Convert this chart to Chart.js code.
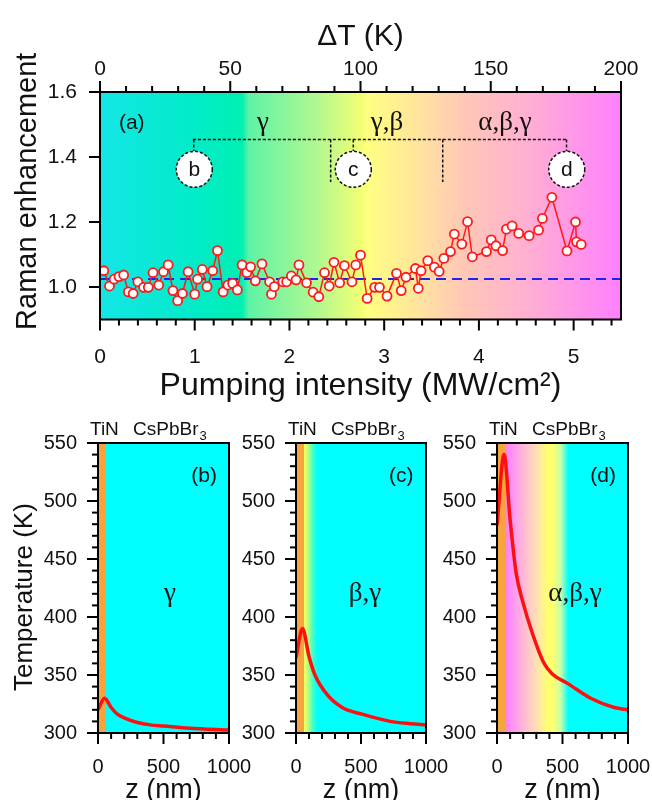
<!DOCTYPE html>
<html>
<head>
<meta charset="utf-8">
<script src="https://cdn.jsdelivr.net/npm/chart.js@4.4.0/dist/chart.umd.min.js"></script>
<style>
html,body{margin:0;padding:0;background:#fff;width:652px;height:800px;overflow:hidden;}
canvas{position:absolute;}
</style>
</head>
<body>
<canvas id="chartA" width="652" height="420" style="left:0;top:0"></canvas>
<canvas id="chartB" width="276" height="420" style="left:0;top:400px"></canvas>
<canvas id="chartC" width="241" height="420" style="left:232px;top:400px"></canvas>
<canvas id="chartD" width="243" height="420" style="left:432px;top:400px"></canvas>
<script>
// =====================================
// DATA
// =====================================

// panel (a): Raman enhancement vs pumping intensity
const pumpIntensity = [
  0.04,0.10,0.15,0.20,0.25,0.30,0.35,0.40,0.46,0.51,
  0.56,0.62,0.67,0.72,0.77,0.82,0.87,0.93,1.00,1.03,
  1.08,1.13,1.19,1.24,1.30,1.35,1.40,1.45,1.50,1.55,
  1.59,1.64,1.71,1.79,1.81,1.84,1.93,1.97,2.02,2.07,
  2.10,2.18,2.25,2.31,2.37,2.42,2.47,2.53,2.58,2.66,
  2.70,2.75,2.82,2.90,2.95,3.03,3.13,3.18,3.23,3.33,
  3.36,3.39,3.46,3.53,3.58,3.63,3.70,3.74,3.82,3.88,
  3.93,4.08,4.13,4.18,4.25,4.29,4.35,4.42,4.53,4.63,
  4.67,4.77,4.93,5.02,5.03,5.08
];
const ramanEnh = [
  1.050,1.003,1.024,1.032,1.037,0.985,0.980,1.016,0.999,0.999,
  1.044,1.006,1.047,1.068,0.989,0.958,0.980,1.047,0.978,1.024,
  1.054,1.001,1.050,1.112,0.985,1.006,1.011,0.991,1.068,1.044,
  1.062,1.019,1.071,1.016,0.978,1.001,1.016,1.016,1.034,1.022,
  1.068,1.013,0.984,0.970,1.044,1.003,1.076,1.013,1.066,1.016,
  1.068,1.098,0.965,0.999,0.999,0.972,1.042,0.989,1.030,1.057,
  0.996,1.050,1.081,1.061,1.048,1.088,1.109,1.163,1.132,1.201,
  1.093,1.109,1.145,1.127,1.112,1.178,1.188,1.165,1.158,1.175,
  1.211,1.276,1.111,1.200,1.139,1.131
];
const baseline = 1.025;
const pumpRange = [0, 5.5];
const deltaTRange = [0, 200];
const ramanRange = [0.9, 1.6];

const pumpTicks = [0, 1, 2, 3, 4, 5];
const deltaTTicks = [0, 50, 100, 150, 200];
const ramanTicks = [1.0, 1.2, 1.4, 1.6];

const phaseLabels = ["γ", "γ,β", "α,β,γ"];
const profileTags = ["b", "c", "d"];

// panels (b)-(d): temperature profiles
const zB = [0, 50, 100, 150, 200, 300, 400, 500, 700, 1000];
const tempB = [320, 330, 322, 316, 313, 309, 307, 306, 304, 302.5];

const zC = [0, 50, 100, 146, 240, 355, 515, 725, 880, 1000];
const tempC = [365, 390, 366, 350, 333, 322, 316, 310, 308, 307];

const zD = [0, 54, 100, 146, 200, 270, 355, 420, 535, 715, 895, 1000];
const tempD = [479, 540, 484, 438, 412, 386, 361, 351, 343, 330, 322, 320];

const zRange = [0, 1000];
const tempRange = [300, 550];
const zTicks = [0, 500, 1000];
const tempTicks = [300, 350, 400, 450, 500, 550];


// =====================================
// HELPERS
// =====================================

const SANS = '"Liberation Sans", Arial, sans-serif';
const SERIF = '"Liberation Serif", "Times New Roman", serif';
const INK = "#111";

Chart.defaults.color = INK;
Chart.defaults.font.family = SANS;

function ticksEvery(min, max, step){
    const out = [];
    const n = Math.round((max - min) / step);
    for(let i = 0; i <= n; i++){
        out.push(+(min + i * step).toFixed(6));
    }
    return out;
}

function isIn(list, v){
    return list.some(m => Math.abs(m - v) < 1e-6);
}

function points(xs, ys){
    return xs.map((x, i) => ({x: x, y: ys[i]}));
}

// frame + outward tick marks (major / minor)
function frameTicks(axes){
    return {
        id: "frameTicks",
        afterDraw(chart){
            const {ctx, chartArea: a} = chart;
            ctx.save();
            ctx.strokeStyle = "#000";
            ctx.lineWidth = 2;
            ctx.setLineDash([]);
            ctx.strokeRect(a.left, a.top, a.right - a.left, a.bottom - a.top);
            for(const id in axes){
                const s = chart.scales[id];
                const majors = axes[id];
                s.ticks.forEach(t => {
                    const p = s.getPixelForValue(t.value);
                    const len = isIn(majors, t.value) ? 11 : 6;
                    ctx.beginPath();
                    if(s.position === "bottom"){ ctx.moveTo(p, a.bottom); ctx.lineTo(p, a.bottom + len); }
                    else if(s.position === "top"){ ctx.moveTo(p, a.top); ctx.lineTo(p, a.top - len); }
                    else { ctx.moveTo(a.left, p); ctx.lineTo(a.left - len, p); }
                    ctx.stroke();
                });
            }
            ctx.restore();
        }
    };
}

// background colour bands along x (stops in data units)
function backdrop(stops, solid){
    return {
        id: "backdrop",
        beforeDatasetsDraw(chart){
            const {ctx, chartArea: a, scales: {x}} = chart;
            const g = ctx.createLinearGradient(a.left, 0, a.right, 0);
            const w = a.right - a.left;
            stops.forEach(s => {
                const f = Math.min(1, Math.max(0, (x.getPixelForValue(s[0]) - a.left) / w));
                g.addColorStop(f, s[1]);
            });
            ctx.save();
            ctx.fillStyle = g;
            ctx.fillRect(a.left, a.top, w, a.bottom - a.top);
            if(solid){
                const x0 = x.getPixelForValue(solid[0]);
                const x1 = x.getPixelForValue(solid[1]);
                ctx.fillStyle = solid[2];
                ctx.fillRect(x0, a.top, x1 - x0, a.bottom - a.top);
            }
            ctx.restore();
        }
    };
}


// =====================================
// PANEL (a)
// =====================================

const overlayA = {
    id: "overlayA",
    afterDatasetsDraw(chart){
        const {ctx, scales: {x, y}} = chart;
        const X = v => x.getPixelForValue(v);
        const Y = v => y.getPixelForValue(v);

        ctx.save();
        ctx.fillStyle = INK;
        ctx.textAlign = "center";
        ctx.textBaseline = "middle";

        ctx.font = "21px " + SANS;
        ctx.fillText("(a)", X(0.335), Y(1.504));

        ctx.font = "27px " + SERIF;
        ctx.fillText(phaseLabels[0], X(1.72), Y(1.505));
        ctx.fillText(phaseLabels[1], X(3.03), Y(1.505));
        ctx.fillText(phaseLabels[2], X(4.275), Y(1.505));

        // dotted bracket
        ctx.strokeStyle = INK;
        ctx.lineWidth = 1.5;
        ctx.setLineDash([3, 2]);
        ctx.beginPath();
        ctx.moveTo(X(0.98), Y(1.454)); ctx.lineTo(X(4.92), Y(1.454));
        ctx.moveTo(X(2.435), Y(1.454)); ctx.lineTo(X(2.435), Y(1.323));
        ctx.moveTo(X(3.618), Y(1.454)); ctx.lineTo(X(3.618), Y(1.323));
        [0.99, 2.674, 4.925].forEach(cx => {
            ctx.moveTo(X(cx), Y(1.454)); ctx.lineTo(X(cx), Y(1.362) - 18);
        });
        ctx.stroke();

        // dashed circles with tags
        [0.995, 2.674, 4.927].forEach((cx, i) => {
            ctx.beginPath();
            ctx.setLineDash([3, 2]);
            ctx.arc(X(cx), Y(1.362), 18, 0, Math.PI * 2);
            ctx.fillStyle = "#fff";
            ctx.fill();
            ctx.stroke();
            ctx.fillStyle = INK;
            ctx.font = "21px " + SANS;
            ctx.fillText(profileTags[i], X(cx), Y(1.362) + 1);
        });
        ctx.restore();
    }
};

new Chart(document.getElementById("chartA"), {
    type: "line",
    data: {
        datasets: [{
            data: points(pumpIntensity, ramanEnh),
            borderColor: "#ff1a1a",
            borderWidth: 1.5,
            pointRadius: 4.5,
            pointBackgroundColor: "#fff",
            pointBorderColor: "#ff1a1a",
            pointBorderWidth: 1.8,
            xAxisID: "x",
            yAxisID: "y",
            order: 0
        }, {
            data: points(pumpRange, [baseline, baseline]),
            borderColor: "#2222e8",
            borderWidth: 2,
            borderDash: [10, 6],
            pointRadius: 0,
            xAxisID: "x",
            yAxisID: "y",
            order: 1
        }]
    },
    options: {
        responsive: false,
        animation: false,
        layout: {padding: {left: 0, right: 31, top: 0, bottom: 0}},
        plugins: {legend: {display: false}, tooltip: {enabled: false}},
        scales: {
            x: {
                type: "linear", position: "bottom",
                min: pumpRange[0], max: pumpRange[1],
                grid: {display: false, drawTicks: false},
                border: {display: false},
                afterBuildTicks: s => { s.ticks = ticksEvery(0, 5.4, 0.2).map(v => ({value: v})); },
                afterFit: s => { s.height = 100.5; },
                ticks: {
                    autoSkip: false, maxRotation: 0, padding: 27,
                    font: {size: 21, lineHeight: 1},
                    callback: v => isIn(pumpTicks, v) ? String(Math.round(v)) : ""
                },
                title: {
                    display: true, text: "Pumping intensity (MW/cm²)",
                    font: {size: 32, lineHeight: 1}, padding: {top: 0, bottom: 18}
                }
            },
            x2: {
                type: "linear", position: "top",
                min: deltaTRange[0], max: deltaTRange[1],
                grid: {display: false, drawTicks: false},
                border: {display: false},
                afterBuildTicks: s => { s.ticks = ticksEvery(0, 200, 10).map(v => ({value: v})); },
                afterFit: s => { s.height = 92; },
                ticks: {
                    autoSkip: false, maxRotation: 0, padding: 12,
                    font: {size: 21, lineHeight: 1},
                    callback: v => isIn(deltaTTicks, v) ? String(Math.round(v)) : ""
                },
                title: {
                    display: true, text: "ΔT (K)",
                    font: {size: 30, lineHeight: 1}, padding: {top: 22, bottom: 0}
                }
            },
            y: {
                type: "linear", position: "left",
                min: ramanRange[0], max: ramanRange[1],
                grid: {display: false, drawTicks: false},
                border: {display: false},
                afterBuildTicks: s => { s.ticks = ramanTicks.map(v => ({value: v})); },
                afterFit: s => { s.width = 100; },
                ticks: {
                    autoSkip: false, padding: 23,
                    font: {size: 21, lineHeight: 1},
                    callback: v => v.toFixed(1)
                },
                title: {
                    // leading en spaces nudge the centred title upward, as in the original
                    display: true, text: "\u2002\u2002Raman enhancement",
                    font: {size: 29, lineHeight: 1}, padding: {top: 13, bottom: 0}
                }
            }
        }
    },
    plugins: [
        backdrop([
            [0.00, "#14e6e6"],
            [1.00, "#00ecc8"],
            [1.50, "#00f0b2"],
            [1.57, "#5ef3a6"],
            [2.30, "#b2f890"],
            [2.77, "#f4ff72"],
            [2.82, "#ffff80"],
            [3.40, "#ffe2a0"],
            [3.80, "#ffc9b4"],
            [4.50, "#ffb0d2"],
            [5.50, "#ff80ff"]
        ]),
        overlayA,
        frameTicks({x: pumpTicks, x2: deltaTTicks, y: ramanTicks})
    ]
});


// =====================================
// PANELS (b)-(d)
// =====================================

function overlayProfile(tag, phase, phaseZ){
    return {
        id: "overlayProfile",
        afterDatasetsDraw(chart){
            const {ctx, chartArea: a, scales: {x, y}} = chart;
            ctx.save();
            ctx.fillStyle = INK;
            ctx.textBaseline = "middle";
            ctx.textAlign = "center";
            ctx.font = "21px " + SANS;
            ctx.fillText("(" + tag + ")", x.getPixelForValue(810), y.getPixelForValue(521));
            ctx.font = "27px " + SERIF;
            ctx.fillText(phase, x.getPixelForValue(phaseZ), y.getPixelForValue(420));

            // layer names above the frame
            ctx.textAlign = "left";
            ctx.font = "19px " + SANS;
            ctx.fillText("TiN", a.left - 8, a.top - 13);
            ctx.fillText("CsPbBr", a.left + 35, a.top - 13);
            const w = ctx.measureText("CsPbBr").width;
            ctx.font = "13px " + SANS;
            ctx.fillText("3", a.left + 35 + w + 1, a.top - 7);
            ctx.restore();
        }
    };
}

// the right margin is set by the "1000" label + tick padding (~47 px)
function createProfile(id, z, temp, axisWidth, showTitle, stops, tinEdge, tag, phase, phaseZ){
    return new Chart(document.getElementById(id), {
        type: "line",
        data: {
            datasets: [{
                data: points(z, temp),
                borderColor: "#ff1010",
                borderWidth: 3.5,
                pointRadius: 0,
                cubicInterpolationMode: "monotone"
            }]
        },
        options: {
            responsive: false,
            animation: false,
            layout: {padding: {left: 0, right: 47, top: 43, bottom: 0}},
            plugins: {legend: {display: false}, tooltip: {enabled: false}},
            scales: {
                x: {
                    type: "linear", position: "bottom",
                    min: zRange[0], max: zRange[1],
                    grid: {display: false, drawTicks: false},
                    border: {display: false},
                    afterBuildTicks: s => { s.ticks = ticksEvery(0, 1000, 100).map(v => ({value: v})); },
                    afterFit: s => { s.height = 87; },
                    ticks: {
                        autoSkip: false, maxRotation: 0, padding: 24,
                        font: {size: 20, lineHeight: 1},
                        callback: v => isIn(zTicks, v) ? String(Math.round(v)) : ""
                    },
                    title: {
                        display: true, text: "z (nm)",
                        font: {size: 27, lineHeight: 1}, padding: {top: 0, bottom: 16}
                    }
                },
                y: {
                    type: "linear", position: "left",
                    min: tempRange[0], max: tempRange[1],
                    grid: {display: false, drawTicks: false},
                    border: {display: false},
                    afterBuildTicks: s => { s.ticks = ticksEvery(300, 550, 10).map(v => ({value: v})); },
                    afterFit: s => { s.width = axisWidth; },
                    ticks: {
                        autoSkip: false, padding: 21,
                        font: {size: 20, lineHeight: 1},
                        callback: v => isIn(tempTicks, v) ? String(Math.round(v)) : ""
                    },
                    title: {
                        display: showTitle, text: "Temperature (K)\u2002\u2009",
                        font: {size: 26, lineHeight: 1}, padding: {top: 12, bottom: 0}
                    }
                }
            }
        },
        plugins: [
            backdrop(stops, [0, tinEdge, "#f7a43c"]),
            overlayProfile(tag, phase, phaseZ),
            frameTicks({x: zTicks, y: tempTicks})
        ]
    });
}

createProfile("chartB", zB, tempB, 98, true,
    [[0, "#00ffff"], [1000, "#00ffff"]],
    60, profileTags[0], phaseLabels[0], 550);

createProfile("chartC", zC, tempC, 64, false,
    [[0, "#ffff60"], [62, "#ffff60"], [95, "#b0ff84"], [130, "#40ffc8"], [165, "#00ffff"], [1000, "#00ffff"]],
    62, profileTags[1], "β,γ", 530);

createProfile("chartD", zD, tempD, 65, false,
    [[0, "#ff80ff"], [75, "#ff80ff"], [200, "#ffb8d8"], [310, "#ffe2b0"], [385, "#ffff70"], [425, "#ffff70"],
     [485, "#c8ffa8"], [545, "#00ffff"], [1000, "#00ffff"]],
    70, profileTags[2], phaseLabels[2], 595);
</script>
</body>
</html>
